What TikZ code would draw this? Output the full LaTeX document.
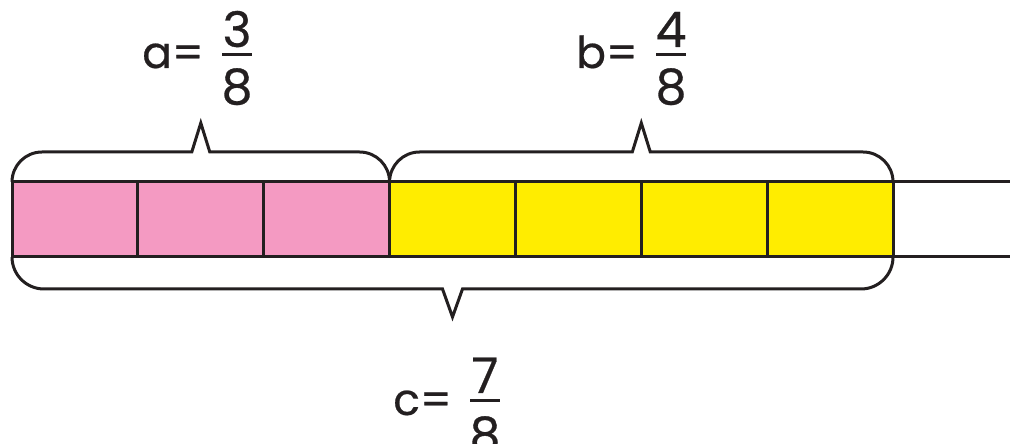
\documentclass[tikz,border=0pt]{standalone}
\usepackage{fontspec}
\setmainfont{Poppins}
\usetikzlibrary{calc}
\definecolor{barpink}{HTML}{F49AC2}
\definecolor{baryellow}{HTML}{FFED00}
\definecolor{inkline}{HTML}{231F20}

\begin{document}
\begin{tikzpicture}[x=1pt,y=1pt,
		cell/.style={draw=inkline, line width=3pt, minimum width=125.86pt, minimum height=75pt, inner sep=0pt, outer sep=0pt},
		brace/.style={draw=inkline, line width=3pt, line join=miter},
		lbl/.style={inner sep=0pt, font=\fontsize{44}{50}\selectfont\addfontfeatures{FakeBold=0.5}, text=inkline},
		digit/.style={lbl, font=\fontsize{49}{54}\selectfont\addfontfeatures{FakeBold=0.6}},
		fracbar/.style={draw=inkline, line width=3pt}]
		\useasboundingbox (0,0) rectangle (1010,444);
		
		% Bar of seven eighths
		\foreach \i/\col in {1/barpink,2/barpink,3/barpink,4/baryellow,5/baryellow,6/baryellow,7/baryellow}
			\node[cell, fill=\col] (c\i) at ({12+(\i-0.5)*125.86}, 224.5) {};
		\coordinate (topend) at (1015,262);
		\coordinate (botend) at (1015,187);
		\draw[brace] (c7.north east) -- (topend);
		\draw[brace] (c7.south east) -- (botend);
		
		% Brace for a
		\draw[brace] (c1.north west) arc[start angle=180, end angle=90, radius=30]
			-- ($(c1.north west)!.5!(c3.north east)+(-9,30)$) -- ++(9,29) -- ++(9,-29)
			-- ($(c3.north east)+(-30,30)$) arc[start angle=90, end angle=0, radius=30];
		
		% Brace for b
		\draw[brace] (c4.north west) arc[start angle=180, end angle=90, radius=30]
			-- ($(c4.north west)!.5!(c7.north east)+(-9,30)$) -- ++(9,29) -- ++(9,-29)
			-- ($(c7.north east)+(-30,30)$) arc[start angle=90, end angle=0, radius=30];
		
		% Brace for c
		\draw[brace] (c1.south west) arc[start angle=180, end angle=270, radius=32]
			-- ($(c1.south west)!.5!(c7.south east)+(-10,-32)$) -- ++(10,-28) -- ++(10,28)
			-- ($(c7.south east)+(-32,-32)$) arc[start angle=270, end angle=360, radius=32];
		
		% Labels
		\node[lbl, anchor=base east] (aeq) at (204,376) {a=};
		\node[digit, anchor=base] (anum) at (237,397) {3};
		\node[digit, anchor=north] (aden) at (237,376) {8};
		\draw[fracbar] ($(anum.base)+(-15,-8)$) -- ++(30,0);
		
		\node[lbl, anchor=base east] (beq) at (638,376) {b=};
		\node[digit, anchor=base] (bnum) at (671,397) {4};
		\node[digit, anchor=north] (bden) at (671,376) {8};
		\draw[fracbar] ($(bnum.base)+(-15,-8)$) -- ++(30,0);
		
		\node[lbl, anchor=base east] (ceq) at (452,29) {c=};
		\node[digit, anchor=base] (cnum) at (485,51) {7};
		\node[digit, anchor=north] (cden) at (485,28) {8};
		\draw[fracbar] ($(cnum.base)+(-15,-8)$) -- ++(30,0);
	\end{tikzpicture}
\end{document}
